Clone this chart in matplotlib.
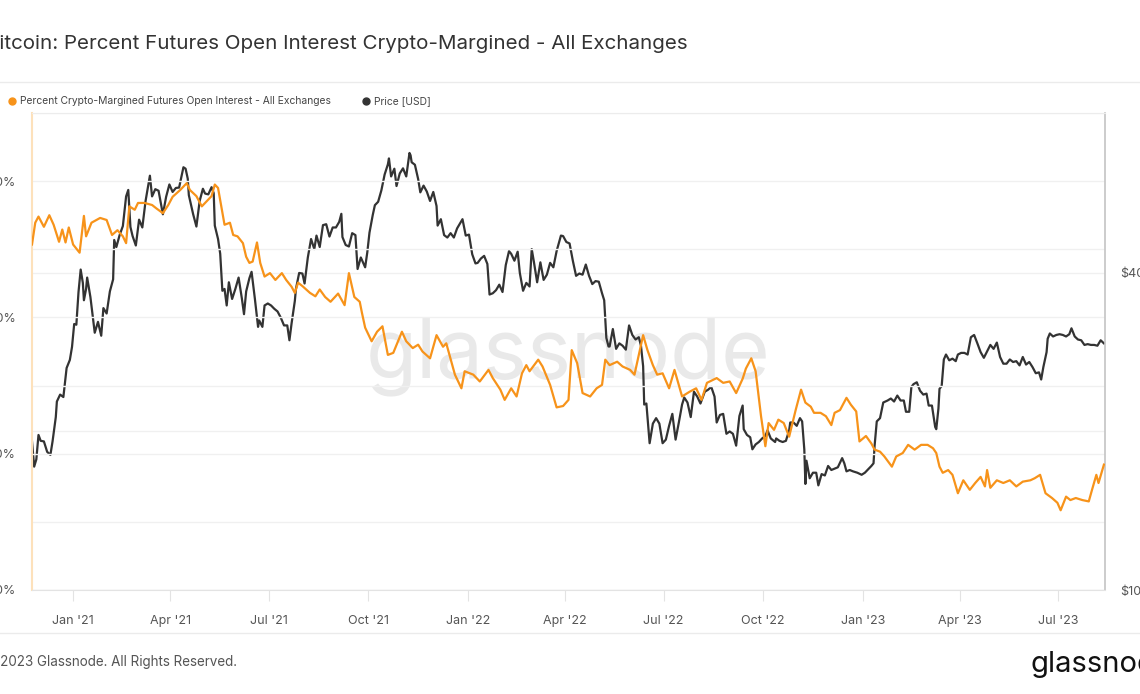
import matplotlib
matplotlib.use("Agg")
import matplotlib.pyplot as plt
import matplotlib.dates as mdates
from matplotlib.lines import Line2D
import pandas as pd

plt.rcParams['font.family'] = ['Inter', 'DejaVu Sans']

# DATA

title = "Bitcoin: Percent Futures Open Interest Crypto-Margined - All Exchanges"
series_names = ["Percent Crypto-Margined Futures Open Interest - All Exchanges", "Price [USD]"]

# percent of futures OI that is crypto-margined
oi_points = [
    ("2020-11-24", 60.7), ("2020-11-27", 63.9), ("2020-11-30", 64.8), ("2020-12-05", 63.3),
    ("2020-12-10", 65.0), ("2020-12-14", 63.6), ("2020-12-19", 61.1), ("2020-12-22", 62.9),
    ("2020-12-25", 61.0), ("2020-12-28", 63.2), ("2021-01-01", 60.7), ("2021-01-07", 59.5),
    ("2021-01-11", 64.9), ("2021-01-13", 61.9), ("2021-01-18", 63.9), ("2021-01-26", 64.6),
    ("2021-02-01", 64.3), ("2021-02-06", 62.1), ("2021-02-11", 62.8), ("2021-02-16", 61.9),
    ("2021-02-19", 60.9), ("2021-02-22", 66.3), ("2021-02-27", 65.8), ("2021-03-02", 66.8),
    ("2021-03-08", 66.8), ("2021-03-15", 66.5), ("2021-03-19", 66.0), ("2021-03-25", 65.3),
    ("2021-03-30", 66.5), ("2021-04-03", 67.7), ("2021-04-10", 68.7), ("2021-04-16", 69.7),
    ("2021-04-19", 68.7), ("2021-04-25", 67.8), ("2021-04-30", 66.3), ("2021-05-03", 66.8),
    ("2021-05-09", 67.8), ("2021-05-12", 69.5), ("2021-05-15", 69.0), ("2021-05-18", 66.3),
    ("2021-05-21", 63.6), ("2021-05-26", 63.9), ("2021-05-29", 62.1), ("2021-06-02", 61.9),
    ("2021-06-07", 60.9), ("2021-06-10", 58.9), ("2021-06-13", 58.0), ("2021-06-16", 58.2),
    ("2021-06-20", 61.0), ("2021-06-23", 58.0), ("2021-06-27", 56.0), ("2021-07-02", 56.5),
    ("2021-07-07", 55.5), ("2021-07-13", 56.5), ("2021-07-17", 55.5), ("2021-07-22", 54.5),
    ("2021-07-25", 53.6), ("2021-07-28", 55.1), ("2021-08-01", 54.6), ("2021-08-08", 53.6),
    ("2021-08-13", 53.1), ("2021-08-17", 54.1), ("2021-08-22", 53.0), ("2021-08-27", 52.3),
    ("2021-09-03", 53.5), ("2021-09-09", 51.8), ("2021-09-13", 56.5), ("2021-09-18", 53.0),
    ("2021-09-23", 52.3), ("2021-09-25", 50.7), ("2021-09-28", 48.5), ("2021-10-04", 46.5),
    ("2021-10-09", 47.9), ("2021-10-14", 48.7), ("2021-10-19", 44.5), ("2021-10-24", 44.8),
    ("2021-11-01", 47.9), ("2021-11-05", 46.5), ("2021-11-11", 45.5), ("2021-11-16", 46.0),
    ("2021-11-20", 45.0), ("2021-11-27", 44.0), ("2021-12-03", 47.4), ("2021-12-09", 45.7),
    ("2021-12-12", 46.2), ("2021-12-20", 41.6), ("2021-12-26", 39.6), ("2021-12-29", 42.1),
    ("2022-01-06", 41.6), ("2022-01-12", 40.6), ("2022-01-20", 42.3), ("2022-01-24", 41.1),
    ("2022-01-31", 39.4), ("2022-02-04", 37.9), ("2022-02-10", 39.6), ("2022-02-15", 38.4),
    ("2022-02-20", 41.8), ("2022-02-24", 43.0), ("2022-02-27", 42.1), ("2022-03-07", 43.8),
    ("2022-03-11", 42.8), ("2022-03-18", 40.1), ("2022-03-24", 36.8), ("2022-03-30", 37.0),
    ("2022-04-04", 37.9), ("2022-04-07", 45.2), ("2022-04-12", 43.3), ("2022-04-17", 38.9),
    ("2022-04-24", 38.4), ("2022-04-30", 39.6), ("2022-05-05", 40.1), ("2022-05-08", 43.8),
    ("2022-05-12", 43.0), ("2022-05-19", 43.5), ("2022-05-24", 42.8), ("2022-05-31", 42.3),
    ("2022-06-04", 41.6), ("2022-06-12", 47.4), ("2022-06-16", 45.2), ("2022-06-21", 43.0),
    ("2022-06-25", 41.6), ("2022-06-30", 41.8), ("2022-07-06", 39.6), ("2022-07-11", 42.3),
    ("2022-07-18", 38.4), ("2022-07-25", 39.1), ("2022-07-31", 39.6), ("2022-08-05", 37.9),
    ("2022-08-10", 40.4), ("2022-08-19", 41.1), ("2022-08-25", 40.4), ("2022-08-31", 40.6),
    ("2022-09-06", 38.9), ("2022-09-12", 41.0), ("2022-09-15", 42.5), ("2022-09-20", 44.0),
    ("2022-09-24", 42.1), ("2022-09-29", 35.5), ("2022-10-03", 31.1), ("2022-10-06", 34.5),
    ("2022-10-11", 33.5), ("2022-10-15", 35.0), ("2022-10-20", 34.5), ("2022-10-25", 32.5),
    ("2022-10-31", 36.4), ("2022-11-05", 39.4), ("2022-11-09", 37.5), ("2022-11-14", 36.9),
    ("2022-11-17", 36.0), ("2022-11-23", 36.0), ("2022-11-28", 35.5), ("2022-12-03", 34.2),
    ("2022-12-06", 36.0), ("2022-12-11", 36.4), ("2022-12-17", 38.2), ("2022-12-21", 37.2),
    ("2022-12-26", 36.2), ("2022-12-29", 31.8), ("2023-01-04", 32.6), ("2023-01-09", 31.5),
    ("2023-01-12", 30.6), ("2023-01-17", 30.3), ("2023-01-21", 29.6), ("2023-01-28", 28.1),
    ("2023-02-01", 29.6), ("2023-02-07", 30.1), ("2023-02-12", 31.3), ("2023-02-18", 30.6),
    ("2023-02-24", 31.3), ("2023-03-02", 31.3), ("2023-03-07", 30.8), ("2023-03-10", 30.1),
    ("2023-03-13", 28.1), ("2023-03-16", 27.2), ("2023-03-21", 27.6), ("2023-03-25", 26.9),
    ("2023-03-30", 24.2), ("2023-04-04", 26.1), ("2023-04-10", 24.7), ("2023-04-15", 25.7),
    ("2023-04-20", 26.6), ("2023-04-24", 25.2), ("2023-04-26", 27.6), ("2023-04-29", 25.0),
    ("2023-05-05", 26.1), ("2023-05-11", 25.7), ("2023-05-17", 26.1), ("2023-05-23", 25.2),
    ("2023-05-29", 25.9), ("2023-06-05", 26.1), ("2023-06-09", 26.4), ("2023-06-14", 26.9),
    ("2023-06-19", 24.2), ("2023-06-25", 23.5), ("2023-06-30", 22.8), ("2023-07-03", 21.7),
    ("2023-07-08", 23.7), ("2023-07-12", 23.2), ("2023-07-17", 23.5), ("2023-07-23", 23.2),
    ("2023-07-29", 23.0), ("2023-08-01", 24.7), ("2023-08-05", 26.9), ("2023-08-07", 25.7),
    ("2023-08-12", 28.4),
]

# BTC price in USD
price_points = [
    ("2020-11-24", 19150), ("2020-11-26", 17150), ("2020-11-28", 17700), ("2020-11-30", 19700),
    ("2020-12-02", 19200), ("2020-12-05", 19150), ("2020-12-08", 18300), ("2020-12-11", 18050),
    ("2020-12-13", 19150), ("2020-12-16", 21300), ("2020-12-17", 22800), ("2020-12-20", 23500),
    ("2020-12-23", 23250), ("2020-12-26", 26400), ("2020-12-29", 27350), ("2020-12-31", 28950),
    ("2021-01-02", 32000), ("2021-01-04", 31900), ("2021-01-06", 36800), ("2021-01-08", 40600),
    ("2021-01-10", 38300), ("2021-01-11", 35500), ("2021-01-13", 37300), ("2021-01-14", 39200),
    ("2021-01-17", 36000), ("2021-01-21", 30800), ("2021-01-24", 32300), ("2021-01-27", 30400),
    ("2021-01-29", 34300), ("2021-02-01", 33500), ("2021-02-04", 36900), ("2021-02-07", 38900),
    ("2021-02-08", 46200), ("2021-02-10", 44800), ("2021-02-13", 47200), ("2021-02-16", 49100),
    ("2021-02-19", 55900), ("2021-02-21", 57500), ("2021-02-23", 48900), ("2021-02-25", 47000),
    ("2021-02-28", 45100), ("2021-03-03", 50500), ("2021-03-06", 48800), ("2021-03-09", 54800),
    ("2021-03-13", 61200), ("2021-03-15", 55900), ("2021-03-18", 57700), ("2021-03-21", 57300),
    ("2021-03-25", 51700), ("2021-03-28", 55800), ("2021-03-31", 58900), ("2021-04-03", 57000),
    ("2021-04-06", 58000), ("2021-04-09", 58100), ("2021-04-13", 63500), ("2021-04-15", 63100),
    ("2021-04-17", 60400), ("2021-04-18", 56200), ("2021-04-22", 51700), ("2021-04-25", 49000),
    ("2021-04-28", 54800), ("2021-05-01", 57800), ("2021-05-03", 56600), ("2021-05-06", 56400),
    ("2021-05-09", 58200), ("2021-05-11", 56700), ("2021-05-12", 49200), ("2021-05-15", 46400),
    ("2021-05-17", 43500), ("2021-05-19", 37000), ("2021-05-21", 37300), ("2021-05-23", 34700),
    ("2021-05-25", 38400), ("2021-05-28", 35700), ("2021-05-31", 37300), ("2021-06-03", 39200),
    ("2021-06-06", 35800), ("2021-06-08", 33400), ("2021-06-10", 36900), ("2021-06-13", 39100),
    ("2021-06-15", 40200), ("2021-06-18", 35800), ("2021-06-21", 31600), ("2021-06-22", 32500),
    ("2021-06-25", 31600), ("2021-06-27", 34700), ("2021-06-30", 35000), ("2021-07-03", 34700),
    ("2021-07-06", 34200), ("2021-07-09", 33800), ("2021-07-12", 32900), ("2021-07-15", 31800),
    ("2021-07-18", 31800), ("2021-07-20", 29800), ("2021-07-22", 32100), ("2021-07-25", 35400),
    ("2021-07-26", 37300), ("2021-07-29", 40000), ("2021-08-01", 39900), ("2021-08-03", 38200),
    ("2021-08-06", 42800), ("2021-08-09", 46400), ("2021-08-12", 44400), ("2021-08-14", 47100),
    ("2021-08-17", 44800), ("2021-08-20", 49300), ("2021-08-23", 49500), ("2021-08-26", 46900),
    ("2021-08-29", 48800), ("2021-09-01", 48800), ("2021-09-04", 50000), ("2021-09-06", 51800),
    ("2021-09-07", 46800), ("2021-09-10", 45200), ("2021-09-13", 44900), ("2021-09-16", 47600),
    ("2021-09-19", 47200), ("2021-09-21", 40700), ("2021-09-24", 42800), ("2021-09-28", 41000),
    ("2021-09-30", 43800), ("2021-10-02", 47700), ("2021-10-05", 51500), ("2021-10-07", 53800),
    ("2021-10-10", 54600), ("2021-10-13", 57400), ("2021-10-16", 61500), ("2021-10-19", 64300),
    ("2021-10-20", 66000), ("2021-10-22", 61000), ("2021-10-25", 63100), ("2021-10-27", 58500),
    ("2021-10-30", 61800), ("2021-11-02", 63200), ("2021-11-05", 61000), ("2021-11-08", 67600),
    ("2021-11-09", 66900), ("2021-11-10", 64900), ("2021-11-13", 64200), ("2021-11-16", 60300),
    ("2021-11-18", 56900), ("2021-11-21", 58600), ("2021-11-24", 57100), ("2021-11-27", 54800),
    ("2021-11-30", 57000), ("2021-12-03", 53600), ("2021-12-04", 49200), ("2021-12-07", 50600),
    ("2021-12-10", 47200), ("2021-12-13", 46700), ("2021-12-16", 47600), ("2021-12-19", 46700),
    ("2021-12-22", 48600), ("2021-12-27", 50600), ("2021-12-30", 47100), ("2022-01-02", 47300),
    ("2022-01-05", 43400), ("2022-01-08", 41700), ("2022-01-10", 41800), ("2022-01-13", 42600),
    ("2022-01-16", 43100), ("2022-01-19", 41600), ("2022-01-21", 36400), ("2022-01-24", 36600),
    ("2022-01-27", 37100), ("2022-01-30", 38000), ("2022-02-02", 36800), ("2022-02-05", 41400),
    ("2022-02-08", 44000), ("2022-02-10", 43500), ("2022-02-13", 42200), ("2022-02-16", 43900),
    ("2022-02-18", 40000), ("2022-02-21", 37000), ("2022-02-24", 38300), ("2022-02-27", 37700),
    ("2022-03-01", 44400), ("2022-03-03", 42000), ("2022-03-06", 38400), ("2022-03-09", 41900),
    ("2022-03-12", 38800), ("2022-03-15", 39700), ("2022-03-18", 41800), ("2022-03-21", 41000),
    ("2022-03-24", 44000), ("2022-03-28", 47100), ("2022-03-30", 47000), ("2022-04-02", 45800),
    ("2022-04-05", 45500), ("2022-04-08", 42200), ("2022-04-11", 39500), ("2022-04-14", 39900),
    ("2022-04-17", 39700), ("2022-04-20", 41500), ("2022-04-23", 39500), ("2022-04-26", 38100),
    ("2022-04-29", 38600), ("2022-05-02", 38500), ("2022-05-05", 36600), ("2022-05-07", 35500),
    ("2022-05-09", 30100), ("2022-05-11", 29000), ("2022-05-12", 29000), ("2022-05-15", 31300),
    ("2022-05-18", 28700), ("2022-05-21", 29400), ("2022-05-24", 29100), ("2022-05-27", 28600),
    ("2022-05-30", 31800), ("2022-06-02", 30500), ("2022-06-05", 29900), ("2022-06-08", 30200),
    ("2022-06-10", 29100), ("2022-06-12", 26600), ("2022-06-13", 22500), ("2022-06-15", 22600),
    ("2022-06-18", 19000), ("2022-06-21", 20700), ("2022-06-24", 21200), ("2022-06-27", 20700),
    ("2022-06-30", 19000), ("2022-07-03", 19300), ("2022-07-06", 20500), ("2022-07-09", 21600),
    ("2022-07-12", 19300), ("2022-07-15", 20800), ("2022-07-18", 22500), ("2022-07-20", 23200),
    ("2022-07-23", 22700), ("2022-07-26", 21300), ("2022-07-29", 23800), ("2022-08-01", 23300),
    ("2022-08-04", 22600), ("2022-08-08", 23800), ("2022-08-11", 24000), ("2022-08-14", 24300),
    ("2022-08-17", 23300), ("2022-08-19", 20800), ("2022-08-22", 21500), ("2022-08-25", 21600),
    ("2022-08-28", 19800), ("2022-08-31", 20000), ("2022-09-03", 19800), ("2022-09-06", 18800),
    ("2022-09-09", 21400), ("2022-09-12", 22400), ("2022-09-13", 20200), ("2022-09-16", 19700),
    ("2022-09-19", 19500), ("2022-09-21", 18500), ("2022-09-24", 18900), ("2022-09-27", 19100),
    ("2022-09-30", 19400), ("2022-10-03", 19600), ("2022-10-05", 20100), ("2022-10-08", 19400),
    ("2022-10-12", 19100), ("2022-10-13", 19400), ("2022-10-16", 19200), ("2022-10-19", 19100),
    ("2022-10-22", 19200), ("2022-10-25", 20100), ("2022-10-26", 20800), ("2022-10-29", 20800),
    ("2022-11-01", 20500), ("2022-11-04", 21200), ("2022-11-06", 20900), ("2022-11-08", 18500),
    ("2022-11-09", 15900), ("2022-11-10", 17600), ("2022-11-13", 16300), ("2022-11-16", 16700),
    ("2022-11-19", 16700), ("2022-11-21", 15800), ("2022-11-24", 16600), ("2022-11-27", 16500),
    ("2022-11-30", 17200), ("2022-12-03", 16900), ("2022-12-06", 17000), ("2022-12-09", 17100),
    ("2022-12-13", 17800), ("2022-12-15", 17400), ("2022-12-17", 16800), ("2022-12-20", 16900),
    ("2022-12-23", 16800), ("2022-12-27", 16700), ("2022-12-31", 16550), ("2023-01-03", 16700),
    ("2023-01-06", 16950), ("2023-01-09", 17200), ("2023-01-11", 17400), ("2023-01-12", 18800),
    ("2023-01-14", 20900), ("2023-01-17", 21200), ("2023-01-20", 22700), ("2023-01-24", 22900),
    ("2023-01-27", 23100), ("2023-01-30", 22800), ("2023-02-02", 23400), ("2023-02-05", 22900),
    ("2023-02-08", 22900), ("2023-02-10", 21800), ("2023-02-13", 21800), ("2023-02-15", 24300),
    ("2023-02-17", 24600), ("2023-02-20", 24800), ("2023-02-23", 23900), ("2023-02-26", 23500),
    ("2023-03-01", 23600), ("2023-03-03", 22400), ("2023-03-06", 22400), ("2023-03-09", 20400),
    ("2023-03-10", 20200), ("2023-03-12", 22100), ("2023-03-13", 24100), ("2023-03-15", 24400),
    ("2023-03-17", 27400), ("2023-03-19", 28000), ("2023-03-22", 27300), ("2023-03-25", 27500),
    ("2023-03-28", 27200), ("2023-03-30", 28000), ("2023-04-02", 28200), ("2023-04-05", 28200),
    ("2023-04-08", 28000), ("2023-04-11", 30200), ("2023-04-14", 30500), ("2023-04-17", 29400),
    ("2023-04-20", 28300), ("2023-04-23", 27600), ("2023-04-26", 28400), ("2023-04-29", 29200),
    ("2023-05-02", 28700), ("2023-05-05", 29500), ("2023-05-08", 27700), ("2023-05-11", 26900),
    ("2023-05-14", 26900), ("2023-05-17", 27400), ("2023-05-20", 27100), ("2023-05-23", 27200),
    ("2023-05-26", 26700), ("2023-05-29", 27700), ("2023-06-01", 26800), ("2023-06-04", 27100),
    ("2023-06-07", 26500), ("2023-06-10", 25800), ("2023-06-13", 25900), ("2023-06-15", 25100),
    ("2023-06-17", 26500), ("2023-06-20", 28300), ("2023-06-21", 30000), ("2023-06-23", 30700),
    ("2023-06-26", 30300), ("2023-06-29", 30500), ("2023-07-02", 30600), ("2023-07-05", 30500),
    ("2023-07-08", 30300), ("2023-07-11", 30600), ("2023-07-13", 31400), ("2023-07-16", 30300),
    ("2023-07-19", 29900), ("2023-07-22", 29800), ("2023-07-25", 29200), ("2023-07-28", 29300),
    ("2023-07-31", 29200), ("2023-08-03", 29200), ("2023-08-06", 29100), ("2023-08-09", 29800),
    ("2023-08-12", 29400),
]

pct_ticks = [10, 20, 30, 40, 50, 60, 70, 80]
pct_labels = ["10%", "", "30%", "", "50%", "", "70%", ""]
price_ticks = [10000, 20000, 40000]
price_labels = ["$10k", "", "$40k"]
x_range = ("2020-11-24", "2023-08-13")

# STYLE
ORANGE = "#f7931a"
DARK = "#333333"
GRID = "#f0f0f0"
TXT = "#555555"

W, H = 1140, 694


def fx(px):
    return px / W


def fy(py):
    return 1 - py / H


oi_dates = pd.to_datetime([d for d, v in oi_points])
oi_vals = [v for d, v in oi_points]
price_dates = pd.to_datetime([d for d, v in price_points])
price_vals = [v for d, v in price_points]

fig = plt.figure(figsize=(W / 100, H / 100), dpi=100)
fig.patch.set_facecolor("white")

# price axis (right, log) in the back, percent axis (left) on top
ax = fig.add_axes([fx(32), fy(590), fx(1105) - fx(32), fy(113) - fy(590)])
ax.set_facecolor("none")
ax.plot(price_dates, price_vals, color=DARK, lw=1.6, zorder=3)
ax.set_yscale("log")
ax.set_ylim(10000, 80500)
ax.grid(axis="y", color=GRID, lw=1, zorder=0)
for s in ax.spines.values():
    s.set_visible(False)

ax.text(0.5, 0.49, "glassnode", transform=ax.transAxes, ha="center", va="center",
        fontsize=60, color="#e9e9e9", zorder=1)

ax2 = ax.twinx()
ax2.plot(oi_dates, oi_vals, color=ORANGE, lw=1.6, zorder=4)
ax2.set_ylim(10, 80)
ax2.grid(axis="y", color=GRID, lw=1, zorder=0)
ax2.set_axisbelow(True)
ax2.spines["left"].set_color("#fde1bb")
ax2.spines["left"].set_linewidth(1.5)
ax2.spines["right"].set_color("#c4c4c4")
ax2.spines["right"].set_linewidth(1.2)
ax2.spines["top"].set_color("#ececec")
ax2.spines["bottom"].set_color("#e3e3e3")

# y ticks: price on the right, percent on the left (set after twinx)
ax.yaxis.set_ticks_position("right")
ax.yaxis.set_label_position("right")
ax.set_yticks(price_ticks)
ax.set_yticklabels(price_labels)
ax.yaxis.set_minor_locator(matplotlib.ticker.NullLocator())
ax.tick_params(axis="y", which="both", length=0, pad=11, labelsize=9, labelcolor=TXT,
               left=False, labelleft=False, right=True, labelright=True)

ax2.yaxis.set_ticks_position("left")
ax2.set_yticks(pct_ticks)
ax2.set_yticklabels(pct_labels)
ax2.tick_params(axis="y", length=0, pad=12, labelsize=9, labelcolor=TXT,
                left=True, labelleft=True, right=False, labelright=False)

ax.set_xlim(pd.Timestamp(x_range[0]), pd.Timestamp(x_range[1]))
ax.xaxis.set_major_locator(mdates.MonthLocator(bymonth=[1, 4, 7, 10]))
ax.xaxis.set_major_formatter(mdates.DateFormatter("%b '%y"))
ax.tick_params(axis="x", length=8, color="#e3e3e3", pad=10, labelsize=9, labelcolor=TXT)

# header / footer
fig.text(fx(688), fy(44), title, ha="right", va="center", fontsize=14.8, color="#333333")
fig.add_artist(Line2D([0, 1], [fy(82), fy(82)], transform=fig.transFigure, color="#ebebeb", lw=1))
fig.add_artist(Line2D([0, 1], [fy(633), fy(633)], transform=fig.transFigure, color="#ebebeb", lw=1))

leg_x = [12, 366]
for name, color, x in zip(series_names, [ORANGE, DARK], leg_x):
    fig.add_artist(Line2D([fx(x)], [fy(101)], transform=fig.transFigure, marker="o",
                          markersize=5, color=color, lw=0))
    fig.text(fx(x + 8), fy(101), name, ha="left", va="center", fontsize=7.4, color="#444444")

fig.text(fx(237), fy(662), "\u00a9 2023 Glassnode. All Rights Reserved.", ha="right",
         va="center", fontsize=9.7, color=TXT)
fig.text(fx(1030), fy(664), "glassnode", ha="left", va="center", fontsize=21, color="#111111")

fig.savefig("out.png", dpi=100)
